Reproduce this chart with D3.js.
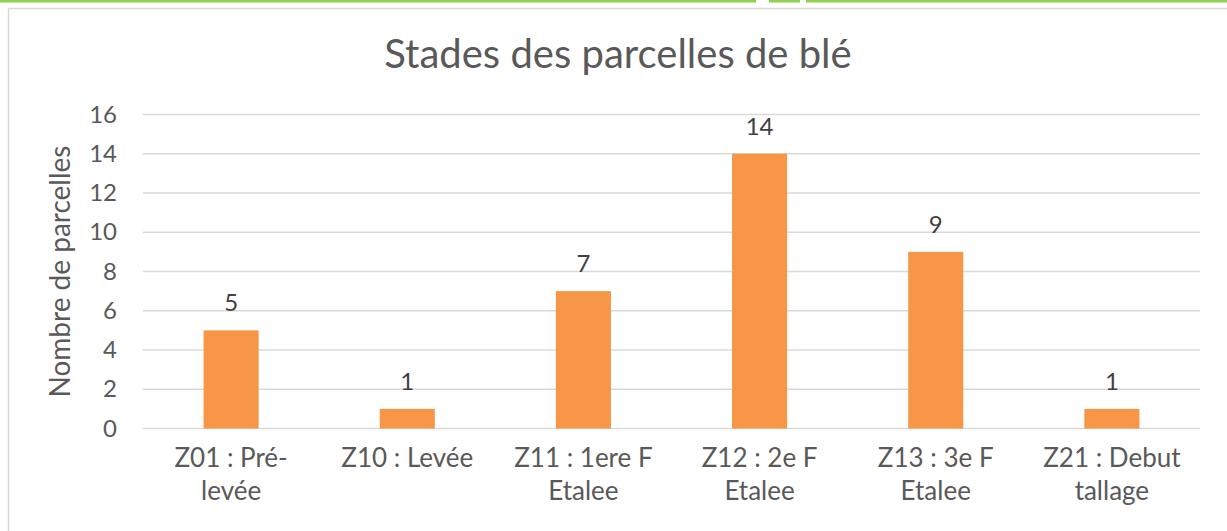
<!DOCTYPE html>
<html>
<head>
<meta charset="utf-8">
<script src="https://cdn.jsdelivr.net/npm/d3@7"></script>
<style>
  body { margin: 0; background: #fff; }
  text { font-family: Lato, "Open Sans", sans-serif; }
</style>
</head>
<body>
<div id="chart"></div>
<script>
// Data

let categories = [
  `Z01 : Pré-levée`,
  `Z10 : Levée`,
  `Z11 : 1ere F Etalee`,
  `Z12 : 2e F Etalee`,
  `Z13 : 3e F Etalee`,
  `Z21 : Debut tallage`,
]
let categoryLines = [
  [`Z01 : Pré-`, `levée`],
  [`Z10 : Levée`],
  [`Z11 : 1ere F`, `Etalee`],
  [`Z12 : 2e F`, `Etalee`],
  [`Z13 : 3e F`, `Etalee`],
  [`Z21 : Debut`, `tallage`],
]
let parcelles = [5, 1, 7, 14, 9, 1]
let yTicks = [0, 2, 4, 6, 8, 10, 12, 14, 16]

// Layout

let width = 1227
let height = 531
let plot = { left: 143, right: 1200, top: 114.5, bottom: 428.5 }

let grey = `#595959`
let dark = `#404040`
let orange = `#F79646`

let svg = d3.select(`#chart`)
  .append(`svg`)
  .attr(`width`, width)
  .attr(`height`, height)

// Green strip at top (cropped from surrounding document)
let strip = [[0, 756], [769, 800], [806, width]]
strip.forEach(([a, b]) => {
  svg.append(`rect`)
    .attr(`x`, a).attr(`y`, 0)
    .attr(`width`, b - a).attr(`height`, 2.5)
    .attr(`fill`, `#92D050`)
})

// Chart area border
svg.append(`rect`)
  .attr(`x`, 8.5).attr(`y`, 8.5)
  .attr(`width`, 1220).attr(`height`, 540)
  .attr(`fill`, `none`)
  .attr(`stroke`, `#D9D9D9`)
  .attr(`stroke-width`, 1.5)

let x = d3.scaleBand()
  .domain(categories)
  .range([plot.left, plot.right])
  .paddingInner(0.6875)
  .paddingOuter(0.344)

let y = d3.scaleLinear()
  .domain([0, 16])
  .range([plot.bottom, plot.top])

// Gridlines
svg.append(`g`)
  .selectAll(`line`)
  .data(yTicks)
  .join(`line`)
  .attr(`x1`, plot.left)
  .attr(`x2`, plot.right)
  .attr(`y1`, d => y(d))
  .attr(`y2`, d => y(d))
  .attr(`stroke`, `#D9D9D9`)
  .attr(`stroke-width`, 1.5)

// Y axis labels
let yAxis = svg.append(`g`)
  .attr(`transform`, `translate(${plot.left},0)`)
  .call(d3.axisLeft(y).tickValues(yTicks).tickSize(0).tickPadding(26))
yAxis.select(`.domain`).remove()
yAxis.selectAll(`text`)
  .attr(`fill`, grey)
  .style(`font-size`, `24px`)

// Bars
svg.append(`g`)
  .selectAll(`rect`)
  .data(parcelles)
  .join(`rect`)
  .attr(`x`, (d, i) => x(categories[i]))
  .attr(`y`, d => y(d))
  .attr(`width`, x.bandwidth())
  .attr(`height`, d => y(0) - y(d))
  .attr(`fill`, orange)

// Value labels
svg.append(`g`)
  .selectAll(`text`)
  .data(parcelles)
  .join(`text`)
  .attr(`x`, (d, i) => x(categories[i]) + x.bandwidth() / 2)
  .attr(`y`, d => y(d) - 19)
  .attr(`text-anchor`, `middle`)
  .attr(`fill`, dark)
  .style(`font-size`, `24px`)
  .text(d => d)

// X axis labels
let xLabels = svg.append(`g`)
  .selectAll(`text`)
  .data(categories)
  .join(`text`)
  .attr(`x`, d => x(d) + x.bandwidth() / 2)
  .attr(`y`, 467)
  .attr(`text-anchor`, `middle`)
  .attr(`fill`, grey)
  .style(`font-size`, `26px`)

xLabels.selectAll(`tspan`)
  .data((d, i) => categoryLines[i])
  .join(`tspan`)
  .attr(`x`, function () { return this.parentNode.getAttribute(`x`) })
  .attr(`dy`, (d, i) => i === 0 ? 0 : 33)
  .text(d => d)

// Y axis title
svg.append(`text`)
  .attr(`transform`, `translate(70,${(plot.top + plot.bottom) / 2}) rotate(-90)`)
  .attr(`text-anchor`, `middle`)
  .attr(`fill`, grey)
  .style(`font-size`, `28px`)
  .text(`Nombre de parcelles`)

// Title
svg.append(`text`)
  .attr(`x`, 618)
  .attr(`y`, 68)
  .attr(`text-anchor`, `middle`)
  .attr(`fill`, grey)
  .style(`font-size`, `40px`)
  .text(`Stades des parcelles de blé`)
</script>
</body>
</html>
